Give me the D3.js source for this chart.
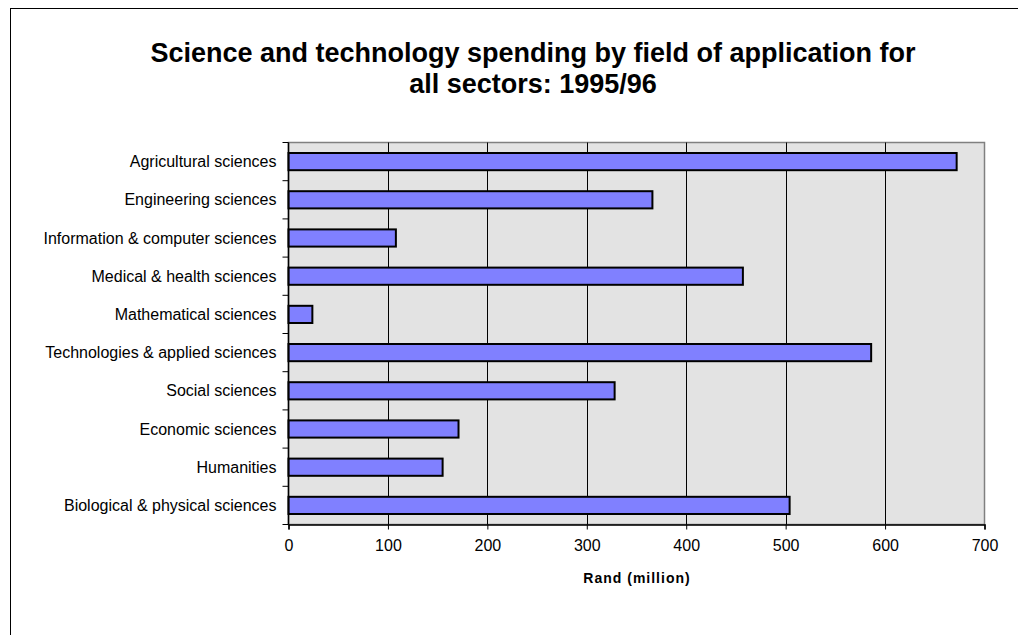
<!DOCTYPE html>
<html>
<head>
<meta charset="utf-8">
<script src="https://cdn.jsdelivr.net/npm/d3@7"></script>
<style>
  body { margin: 0; background: #fff; }
  text { font-family: "Liberation Sans", Arial, sans-serif; fill: #000; }
</style>
</head>
<body>
<div id="chart"></div>
<script>
const categories = [
  'Agricultural sciences',
  'Engineering sciences',
  'Information & computer sciences',
  'Medical & health sciences',
  'Mathematical sciences',
  'Technologies & applied sciences',
  'Social sciences',
  'Economic sciences',
  'Humanities',
  'Biological & physical sciences'
];
const values = [672, 366, 108, 457, 24, 586, 328, 171, 155, 504];
const xTicks = [0, 100, 200, 300, 400, 500, 600, 700];
const titleLines = ['Science and technology spending by field of application for', 'all sectors: 1995/96'];
const xTitle = 'Rand (million)';

const w = 1018, h = 635;
const plotLeft = 288.5, plotRight = 984.5, plotTop = 142.5, plotBottom = 524.5;

const svg = d3.select('#chart').append('svg')
  .attr('width', w).attr('height', h);

// outer frame
svg.append('rect')
  .attr('x', 10.5).attr('y', 8.5)
  .attr('width', 1040).attr('height', 660)
  .attr('fill', '#fff').attr('stroke', '#000').attr('stroke-width', 1);

const xScale = d3.scaleLinear().domain([0, 700]).range([plotLeft, plotRight]);
const yScale = d3.scaleBand().domain(categories).range([plotTop, plotBottom]).paddingInner(0.55).paddingOuter(0.275);

// plot background
svg.append('rect')
  .attr('x', plotLeft).attr('y', plotTop)
  .attr('width', plotRight - plotLeft).attr('height', plotBottom - plotTop)
  .attr('fill', '#e3e3e3').attr('stroke', '#808080').attr('stroke-width', 1.5);

// gridlines
svg.selectAll('line.grid')
  .data(xTicks.slice(1, -1))
  .enter().append('line')
  .attr('class', 'grid')
  .attr('x1', d => Math.round(xScale(d)) + 0.5).attr('x2', d => Math.round(xScale(d)) + 0.5)
  .attr('y1', plotTop).attr('y2', plotBottom)
  .attr('stroke', '#000').attr('stroke-width', 1);

// bars
svg.selectAll('rect.bar')
  .data(values)
  .enter().append('rect')
  .attr('class', 'bar')
  .attr('x', plotLeft)
  .attr('y', (d, i) => yScale(categories[i]))
  .attr('width', d => xScale(d) - plotLeft)
  .attr('height', yScale.bandwidth())
  .attr('fill', '#8080ff')
  .attr('stroke', '#000').attr('stroke-width', 2);

// x axis
const xAxis = d3.axisBottom(xScale).tickValues(xTicks).tickSize(5).tickPadding(10);
const gx = svg.append('g')
  .attr('transform', 'translate(0,' + plotBottom + ')')
  .call(xAxis);
gx.select('.domain').attr('stroke', '#000').attr('stroke-width', 1.5);
gx.selectAll('.tick line').attr('stroke', '#000');
gx.selectAll('.tick text')
  .attr('font-family', '"Liberation Sans", Arial, sans-serif')
  .attr('font-size', 16).attr('fill', '#000');

// y axis: line + ticks at category boundaries
const boundaries = d3.range(categories.length + 1).map(i => plotTop + i * (plotBottom - plotTop) / categories.length);
svg.append('line')
  .attr('x1', plotLeft).attr('x2', plotLeft)
  .attr('y1', plotTop).attr('y2', plotBottom)
  .attr('stroke', '#000').attr('stroke-width', 1.5);
svg.selectAll('line.ytick')
  .data(boundaries)
  .enter().append('line')
  .attr('class', 'ytick')
  .attr('x1', plotLeft - 6).attr('x2', plotLeft)
  .attr('y1', d => d).attr('y2', d => d)
  .attr('stroke', '#000').attr('stroke-width', 1);

// category labels
svg.selectAll('text.cat')
  .data(categories)
  .enter().append('text')
  .attr('class', 'cat')
  .attr('x', plotLeft - 12)
  .attr('y', d => yScale(d) + yScale.bandwidth() / 2)
  .attr('dy', '0.35em')
  .attr('text-anchor', 'end')
  .attr('font-size', 16)
  .text(d => d);

// title
svg.selectAll('text.title')
  .data(titleLines)
  .enter().append('text')
  .attr('class', 'title')
  .attr('x', 533)
  .attr('y', (d, i) => 62 + i * 31)
  .attr('text-anchor', 'middle')
  .attr('font-size', 27)
  .attr('font-weight', 'bold')
  .text(d => d);

// x label
svg.append('text')
  .attr('x', 637).attr('y', 583)
  .attr('text-anchor', 'middle')
  .attr('font-size', 14)
  .attr('font-weight', 'bold')
  .attr('letter-spacing', 1)
  .text(xTitle);
</script>
</body>
</html>
